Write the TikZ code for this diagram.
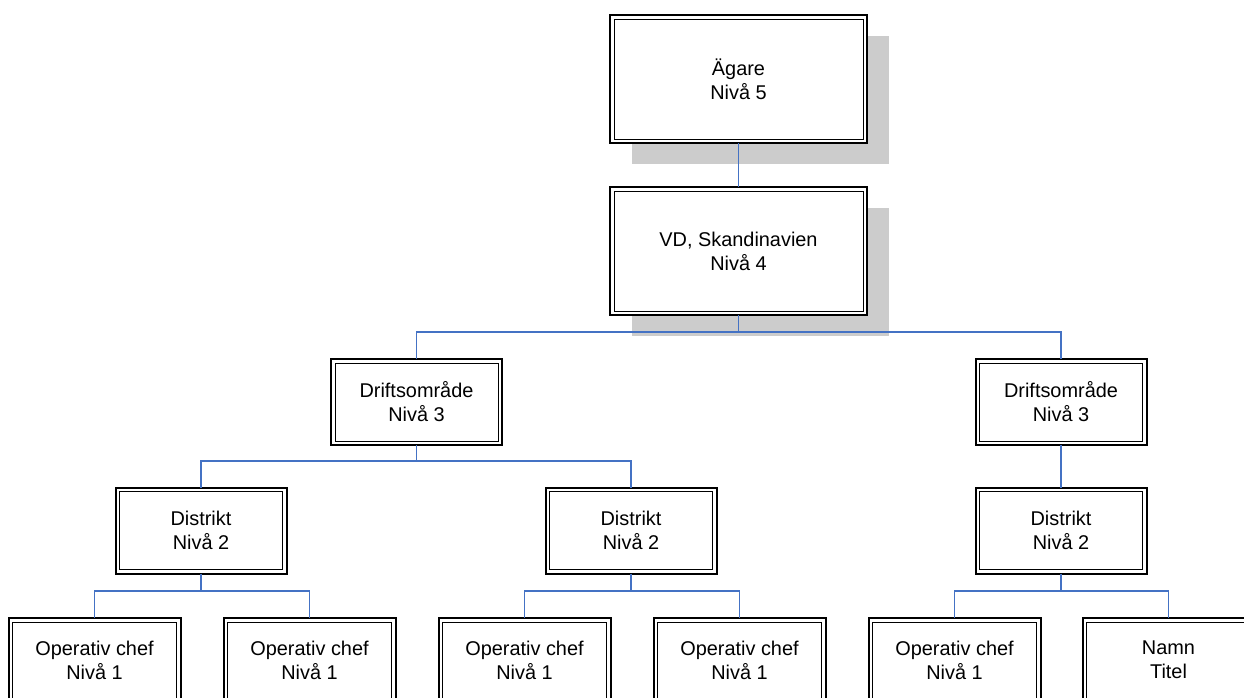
\documentclass[tikz,border=0pt]{standalone}
\usepackage{fontspec}
\setmainfont{Liberation Sans}
\usetikzlibrary{shadows}
\definecolor{linkblue}{RGB}{68,114,196}
\definecolor{shadowgray}{RGB}{204,204,204}
\begin{document}
\begin{tikzpicture}[x=1pt,y=-1pt,
  box/.style={draw, line width=2pt, fill=white, inner sep=0pt, outer sep=0pt,
    align=center, font=\fontsize{19.9}{24}\selectfont,
    path picture={\draw[line width=1pt]
      ([shift={(4pt,-4pt)}]path picture bounding box.north west) rectangle
      ([shift={(-4pt,4pt)}]path picture bounding box.south east);}},
  bigbox/.style={box, minimum width=257pt, minimum height=128pt,
    drop shadow={shadow xshift=22pt, shadow yshift=-21pt, fill=shadowgray, opacity=1}},
  midbox/.style={box, minimum width=171pt, minimum height=86pt},
  smallbox/.style={box, minimum width=172pt, minimum height=84pt},
  link/.style={draw=linkblue, line width=1.6pt}]
\useasboundingbox (0,0) rectangle (1244,697);
\clip (0,0) rectangle (1244,697);

% level 5 and 4
\node[bigbox] (owner) at (738.5,79) {Ägare\\Nivå 5};
\node[bigbox] (ceo) at (738.5,251) {VD, Skandinavien\\Nivå 4};

% level 3
\node[midbox] (opA) at (416.5,402) {Driftsområde\\Nivå 3};
\node[midbox] (opB) at (1061,402) {Driftsområde\\Nivå 3};

% level 2
\node[midbox] (distA) at (201,530.5) {Distrikt\\Nivå 2};
\node[midbox] (distB) at (631,530.5) {Distrikt\\Nivå 2};
\node[midbox] (distC) at (1061,530.5) {Distrikt\\Nivå 2};

% level 1
\node[smallbox] (mgr1) at (94.5,660) {Operativ chef\\Nivå 1};
\node[smallbox] (mgr2) at (309.5,660) {Operativ chef\\Nivå 1};
\node[smallbox] (mgr3) at (524.5,660) {Operativ chef\\Nivå 1};
\node[smallbox] (mgr4) at (739.5,660) {Operativ chef\\Nivå 1};
\node[smallbox] (mgr5) at (954.5,660) {Operativ chef\\Nivå 1};
\node[smallbox] (mgr6) at (1168.5,660) {Namn\\Titel};

% bus heights
\coordinate (busA) at (0,332);
\coordinate (busB) at (0,461);
\coordinate (busC) at (0,591);

% connectors
\path[link] (owner.south) -- (ceo.north);
\path[link] (ceo.south) -- (ceo.south |- busA) -| (opA.north);
\path[link] (ceo.south |- busA) -| (opB.north);
\path[link] (opA.south) -- (opA.south |- busB) -| (distA.north);
\path[link] (opA.south |- busB) -| (distB.north);
\path[link] (opB.south) -- (distC.north);
\path[link] (distA.south) -- (distA.south |- busC) -| (mgr1.north);
\path[link] (distA.south |- busC) -| (mgr2.north);
\path[link] (distB.south) -- (distB.south |- busC) -| (mgr3.north);
\path[link] (distB.south |- busC) -| (mgr4.north);
\path[link] (distC.south) -- (distC.south |- busC) -| (mgr5.north);
\path[link] (distC.south |- busC) -| (mgr6.north);
\end{tikzpicture}
\end{document}
